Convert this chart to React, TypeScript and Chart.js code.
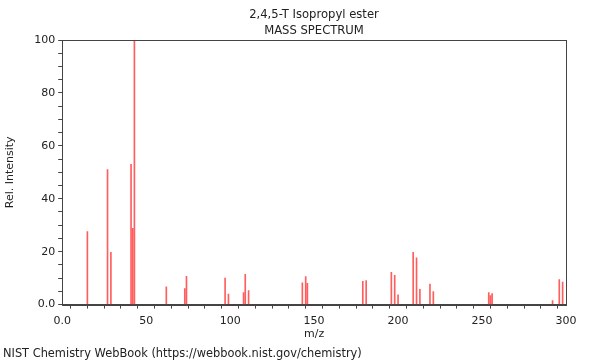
import React, { useEffect, useRef } from "react";
import { Chart, registerables } from "chart.js";

Chart.register(...registerables);

const mzValues = [15, 27, 29, 41, 42, 43, 62, 73, 74, 97, 99, 108, 109, 111, 143, 145, 146, 179, 181, 196, 198, 200, 209, 211, 213, 219, 221, 254, 255, 256, 292, 296, 298];
const intensities = [27.6, 51, 19.8, 53, 28.8, 100, 6.7, 6.1, 10.7, 10.0, 4.0, 4.5, 11.4, 5.3, 8.2, 10.6, 8.0, 8.8, 9.1, 12.2, 11.1, 3.7, 19.8, 17.7, 5.8, 7.8, 4.9, 4.5, 3.4, 4.2, 1.5, 9.5, 8.5];
const chartTitle = ["2,4,5-T Isopropyl ester", "MASS SPECTRUM"];
const xTitle = "m/z";
const yTitle = "Rel. Intensity";
const footerText = "NIST Chemistry WebBook (https://webbook.nist.gov/chemistry)";

const FONT = "'DejaVu Sans', sans-serif";

const framePlugin = {
  id: "frame",
  afterDraw(chart: any) {
    const { ctx, chartArea } = chart;
    ctx.save();
    ctx.strokeStyle = "#444";
    ctx.lineWidth = 1;
    ctx.strokeRect(Math.round(chartArea.left) + 0.5, Math.round(chartArea.top) + 0.5, Math.round(chartArea.right - chartArea.left), Math.round(chartArea.bottom - chartArea.top));
    ctx.restore();
  },
};

export default function App() {
  const ref = useRef<HTMLCanvasElement | null>(null);
  useEffect(() => {
    document.body.style.margin = "0";
    if (!ref.current) return;
    const chart = new Chart(ref.current, {
      type: "bar",
      data: {
        datasets: [
          {
            data: mzValues.map((m, i) => ({ x: m, y: intensities[i] })),
            backgroundColor: "rgba(255,40,40,0.75)",
            barThickness: 1,
            borderWidth: 0,
          },
        ],
      },
      plugins: [framePlugin],
      options: {
        animation: false,
        responsive: false,
        devicePixelRatio: 1,
        layout: { padding: { left: 4, right: 34, top: 40, bottom: 19 } },
        plugins: {
          legend: { display: false },
          tooltip: { enabled: false },
          title: { display: false },
        },
        scales: {
          x: {
            type: "linear",
            offset: false,
            min: 0,
            max: 300,
            grid: { drawOnChartArea: false, drawTicks: true, tickLength: 4, color: "#444" },
            border: { color: "#444" },
            ticks: {
              stepSize: 10,
              autoSkip: false,
              maxRotation: 0,
              color: "#222",
              font: { family: FONT, size: 11 },
              padding: 6,
              callback: (v: any) => (v % 50 === 0 ? (v === 0 ? "0.0" : String(v)) : ""),
            },
            title: { display: true, text: xTitle, color: "#222", font: { family: FONT, size: 11 }, padding: { top: -6, bottom: 0 } },
          },
          y: {
            min: 0,
            max: 100,
            grid: { drawOnChartArea: false, drawTicks: true, tickLength: 4, color: "#444" },
            border: { color: "#444" },
            ticks: {
              stepSize: 5,
              autoSkip: false,
              color: "#222",
              font: { family: FONT, size: 11 },
              padding: 3,
              callback: (v: any) => (v % 20 === 0 ? (v === 0 ? "0.0" : String(v)) : ""),
            },
            title: { display: true, text: yTitle, color: "#222", font: { family: FONT, size: 11 }, padding: { top: 0, bottom: 14 } },
          },
        },
      },
    } as any);
    return () => chart.destroy();
  }, []);
  const titleStyle: React.CSSProperties = {
    position: "absolute",
    left: 214,
    width: 200,
    textAlign: "center",
    fontFamily: FONT,
    fontSize: 11.6,
    lineHeight: "14px",
    color: "#222",
    whiteSpace: "nowrap",
  };
  return (
    <div style={{ position: "relative", width: 600, height: 360, background: "#fff" }}>
      <canvas ref={ref} width={600} height={360} style={{ display: "block" }} />
      <div style={{ ...titleStyle, top: 7 }}>{chartTitle[0]}</div>
      <div style={{ ...titleStyle, top: 23 }}>{chartTitle[1]}</div>
      <div style={{ position: "absolute", left: 3, top: 346, fontFamily: FONT, fontSize: 11.4, color: "#222", whiteSpace: "nowrap" }}>{footerText}</div>
    </div>
  );
}
